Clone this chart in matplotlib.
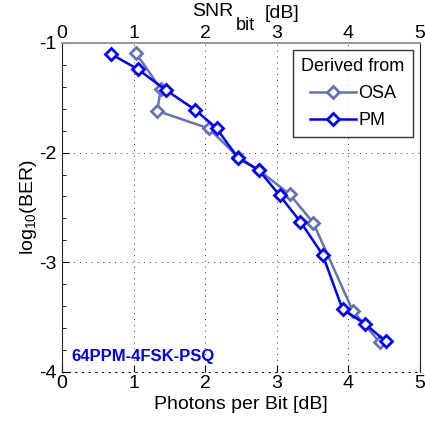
import numpy as np
import matplotlib
matplotlib.use("Agg")
import matplotlib.pyplot as plt
from matplotlib.ticker import MultipleLocator

plt.rcParams['font.family'] = ['Liberation Sans', 'DejaVu Sans']
plt.rcParams['axes.unicode_minus'] = False

# photons per bit [dB] vs log10(BER)
osa_x = [1.03, 1.38, 1.33, 2.05, 2.46, 2.75, 3.18, 3.51, 4.06, 4.44]
osa_y = [-1.09, -1.42, -1.62, -1.78, -2.04, -2.16, -2.38, -2.64, -3.44, -3.73]
pm_x = [0.68, 1.06, 1.45, 1.86, 2.16, 2.46, 2.75, 3.04, 3.33, 3.64, 3.92, 4.23, 4.52]
pm_y = [-1.10, -1.24, -1.43, -1.61, -1.78, -2.05, -2.16, -2.39, -2.63, -2.93, -3.43, -3.56, -3.72]

osa_color = '#6672B4'
pm_color = '#0000FF'

fig = plt.figure(figsize=(4.25, 4.29), dpi=100)
ax = fig.add_axes([0.146, 0.133, 0.842, 0.767])

ax.plot(osa_x, osa_y, color=osa_color, lw=1.8, marker='D', ms=6,
        mfc='white', mec=osa_color, mew=2.0, label='OSA')
ax.plot(pm_x, pm_y, color=pm_color, lw=1.8, marker='D', ms=6,
        mfc='white', mec=pm_color, mew=2.0, label='PM')

ax.set_xlim(0, 5)
ax.set_ylim(-4, -1)
ax.xaxis.set_major_locator(MultipleLocator(1))
ax.yaxis.set_major_locator(MultipleLocator(1))
ax.yaxis.set_minor_locator(MultipleLocator(0.2))
ax.tick_params(axis='both', which='major', direction='in', length=5, labelsize=14, pad=2)
ax.tick_params(axis='y', which='major', pad=4)
ax.tick_params(axis='y', which='minor', direction='in', length=3)
ax.tick_params(axis='x', which='both', top=False)
ax.grid(True, which='major', linestyle=(0, (1, 5)), color='#333333', lw=0.7)

for s in ['left', 'right']:
    ax.spines[s].set_color('#222222')
ax.spines['top'].set_color('#999999')
ax.spines['top'].set_linewidth(1.5)
ax.spines['bottom'].set_linestyle((0, (1, 5)))

ax.set_xlabel('Photons per Bit [dB]', fontsize=14, labelpad=3)
ax.set_ylabel(r'log$_{\mathregular{10}}$(BER)', fontsize=14, labelpad=0)

top = ax.twiny()
top.set_xlim(0, 5)
top.xaxis.set_major_locator(MultipleLocator(1))
top.tick_params(axis='x', direction='in', length=0, labelsize=14, pad=1)
for s in top.spines.values():
    s.set_visible(False)

# top axis label: SNR_bit [dB] with a low, large subscript
fig.text(192 / 425, 1 - 12 / 429, 'SNR', fontsize=14, ha='left', va='center')
fig.text(236 / 425, 1 - 25 / 429, 'bit', fontsize=13, ha='left', va='center')
fig.text(265 / 425, 1 - 13 / 429, '[dB]', fontsize=14, ha='left', va='center')

leg = ax.legend(title='Derived from', loc='upper right', fontsize=13, title_fontsize=13,
                frameon=True, fancybox=False, edgecolor='black', handlelength=2.6,
                handletextpad=0.1, borderaxespad=0.4, borderpad=0.45, labelspacing=0.55)
leg.get_frame().set_linewidth(1.0)

ax.text(0.13, -3.86, '64PPM-4FSK-PSQ', color=pm_color, fontsize=12, fontweight='bold',
        va='center', ha='left')

fig.savefig('out.png', dpi=100)
